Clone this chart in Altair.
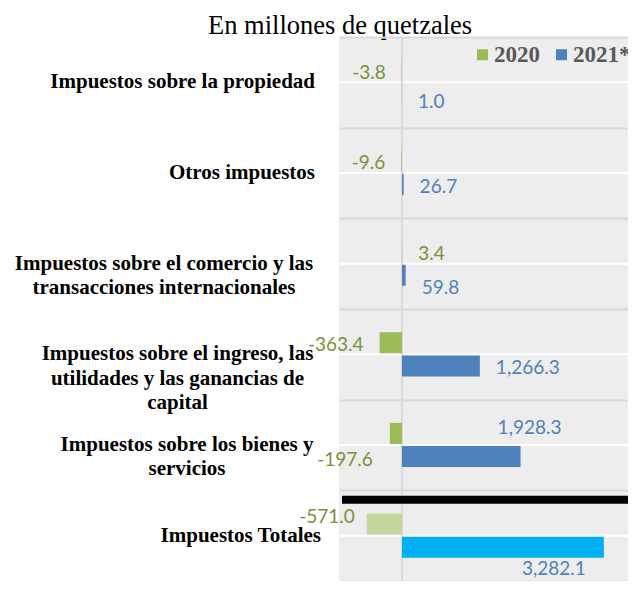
import altair as alt
import pandas as pd

# ---------------- data ----------------
categories = [
    "Impuestos sobre la propiedad",
    "Otros impuestos",
    "Impuestos sobre el comercio y las|transacciones internacionales",
    "Impuestos sobre el ingreso, las|utilidades y las ganancias de|capital",
    "Impuestos sobre los bienes y|servicios",
    "Impuestos Totales",
]
series = ["2020", "2021*"]
values_2020 = [-3.8, -9.6, 3.4, -363.4, -197.6, -571.0]
values_2021 = [1.0, 26.7, 59.8, 1266.3, 1928.3, 3282.1]
total_category = "Impuestos Totales"

rows = []
for cat, v20, v21 in zip(categories, values_2020, values_2021):
    for s, v in ((series[0], v20), (series[1], v21)):
        rows.append({"cat": cat, "serie": s, "value": v})
df = pd.DataFrame(rows)
df_cats = pd.DataFrame({"cat": categories})

# ---------------- styles ----------------
W, H = 289, 544
BAND = H / len(categories)
BAR = 21
PAD_INNER = (BAND - 4 * BAR) / (BAND - BAR)
GREEN, BLUE = "#9BBB59", "#4F81BD"
GREEN_T, CYAN_T = "#C3D69B", "#00B0F0"
GREEN_TXT, BLUE_TXT = "#77933C", "#4F81BD"
GRID = "#d9d9d9"
SERIF = "Liberation Serif"
HATCH_FILL = "#ededed"

y_scale = alt.Scale(domain=categories, paddingInner=0, paddingOuter=0)
y_axis = alt.Axis(
    title=None,
    domain=False,
    ticks=False,
    labels=False,
    grid=True,
    gridColor=GRID,
    gridWidth=2,
    tickBand="extent",
    zindex=1,
)
Y = alt.Y("cat:N", scale=y_scale, axis=y_axis, title=None)
YOFF = alt.YOffset("serie:N", scale=alt.Scale(domain=series, paddingInner=PAD_INNER, paddingOuter=1))
x_scale = alt.Scale(domain=[-1024, 3675], nice=False, zero=False)
X = alt.X("value:Q", scale=x_scale, axis=None)

mid = alt.Chart(df_cats).mark_rule(color="white", strokeWidth=2).encode(y=Y)

zero = (
    alt.Chart(pd.DataFrame({"z": [0]}))
    .mark_rule(color=GRID, strokeWidth=2)
    .encode(x=alt.X("z:Q", scale=x_scale, axis=None))
)

bars = (
    alt.Chart(df)
    .transform_filter(alt.datum.cat != total_category)
    .mark_bar(strokeWidth=0)
    .encode(
        x=X,
        y=Y,
        yOffset=YOFF,
        color=alt.Color(
            "serie:N",
            scale=alt.Scale(domain=series, range=[GREEN, BLUE]),
            legend=alt.Legend(
                title=None,
                orient="none",
                direction="horizontal",
                legendX=132,
                legendY=6,
                symbolType="square",
                symbolSize=121,
                symbolStrokeWidth=0,
                labelFont=SERIF,
                labelFontWeight="bold",
                labelFontSize=23,
                labelColor="#595959",
                labelOffset=0,
                columnPadding=10,
                padding=0,
            ),
        ),
    )
)

bars_total = (
    alt.Chart(df)
    .transform_filter(alt.datum.cat == total_category)
    .mark_bar(strokeWidth=0)
    .encode(
        x=X,
        y=Y,
        yOffset=YOFF,
        color=alt.condition("datum.serie === '2020'", alt.value(GREEN_T), alt.value(CYAN_T)),
    )
)

sep = alt.Chart(pd.DataFrame({"k": [0]})).mark_rule(color="black", strokeWidth=8).encode(
    y=alt.value(BAND * 5 + 9.5), x=alt.value(3), x2=alt.value(W)
)

# category labels (left of the plot): single-line right aligned, multi-line centred
label_pos = {
    categories[0]: ("right", -24),
    categories[1]: ("right", -24),
    categories[2]: ("center", -175),
    categories[3]: ("center", -161.5),
    categories[4]: ("center", -152),
    categories[5]: ("right", -18),
}
cat_layers = []
for cat in categories:
    align, px = label_pos[cat]
    cat_layers.append(
        alt.Chart(df_cats)
        .transform_filter(alt.datum.cat == cat)
        .mark_text(
            font=SERIF, fontWeight="bold", fontSize=21, color="black", align=align, baseline="middle",
            lineBreak="|", lineHeight=24.3,
        )
        .encode(x=alt.value(px), y=Y, text="cat:N")
    )

# data label placement (style only)
overrides = {
    (categories[0], "2021*"): ("left", 16, 8),
    (categories[2], "2021*"): ("left", 16, 13),
    (categories[4], "2021*"): ("center", 9, -29),
    (categories[4], "2020"): ("right", -17, 27),
    (categories[5], "2020"): ("right", -12, -7),
    (categories[5], "2021*"): ("center", -50, 22),
}
groups = {}
for r in rows:
    k = (r["cat"], r["serie"])
    if k in overrides:
        st = overrides[k]
    elif r["value"] < 0:
        st = ("right", -16, 2)
    else:
        st = ("left", 16, 2)
    groups.setdefault(st, []).append(f"(datum.cat === '{k[0]}' && datum.serie === '{k[1]}')")

labels = []
for (align, dx, dy), conds in groups.items():
    labels.append(
        alt.Chart(df)
        .transform_filter(" || ".join(conds))
        .transform_calculate(lbl="replace(format(datum.value, ',.1f'), '\u2212', '-')")
        .mark_text(font="Lato", fontSize=19, align=align, baseline="middle", dx=dx, dy=dy)
        .encode(
            x=X,
            y=Y,
            yOffset=YOFF,
            text=alt.Text("lbl:N"),
            color=alt.condition("datum.serie === '2020'", alt.value(GREEN_TXT), alt.value(BLUE_TXT)),
        )
    )

chart = (
    alt.layer(mid, zero, bars, bars_total, sep, *cat_layers, *labels)
    .properties(
        width=W,
        height=H,
        title=alt.TitleParams(
            "En millones de quetzales",
            font=SERIF,
            fontSize=26.5,
            fontWeight="normal",
            color="black",
            anchor="start",
            frame="group",
            dx=-131,
            dy=24,
            offset=0,
            baseline="alphabetic",
        ),
        autosize=alt.AutoSizeParams(type="none"),
        padding={"left": 331, "top": 29, "right": 0, "bottom": 0},
    )
    .configure_view(stroke=None, fill=HATCH_FILL)
)

chart.save("out.html", embed_options={"renderer": "svg", "actions": False})
